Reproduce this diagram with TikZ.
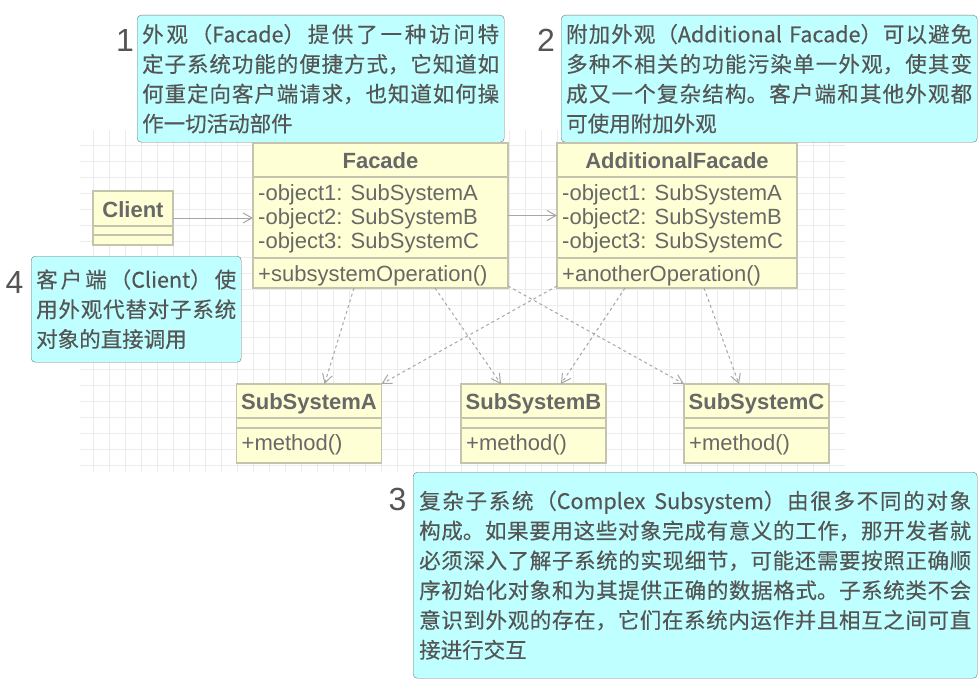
\documentclass[tikz,border=0pt]{standalone}
\usepackage{fontspec}
\setmainfont{Liberation Sans}
\newfontfamily\cjk[FakeBold=0.3]{Noto Sans CJK SC}
\usetikzlibrary{arrows.meta,positioning}
\XeTeXlinebreaklocale "zh"
\XeTeXlinebreakskip=0pt plus 1pt
\definecolor{notefill}{HTML}{BFFFFF}
\definecolor{noteline}{HTML}{777777}
\definecolor{notetext}{HTML}{555555}
\definecolor{classfill}{HTML}{FFFFD5}
\definecolor{classline}{HTML}{C4C4AE}
\definecolor{classtext}{HTML}{686868}
\definecolor{gridline}{HTML}{ECECEC}
\definecolor{arrowline}{HTML}{A6A6A6}
\def\classfont{\fontsize{22}{24}\selectfont}

\begin{document}
\begin{tikzpicture}[x=1pt,y=-1pt,
  classbox/.style={draw=classline,fill=classfill,line width=1.3pt,inner sep=0pt,outer sep=0pt,anchor=north west},
  classsep/.style={draw=classline,line width=1.3pt},
  classtitle/.style={font=\classfont\bfseries,text=classtext,inner sep=0pt,anchor=base},
  classbody/.style={font=\classfont,text=classtext,align=left,inner sep=0pt},
  note/.style={draw=noteline,fill=notefill,rounded corners=4pt,anchor=north west,inner xsep=5pt,inner ysep=2pt,
    align=justify,text=notetext,font=\cjk\fontsize{21.5}{29.8}\selectfont},
  notenum/.style={font=\fontsize{32}{32}\selectfont,text=notetext,inner sep=0pt},
  uses/.style={draw=arrowline,line width=1pt,-{Straight Barb[length=9pt,width=10pt]}},
  depends/.style={uses,dash pattern=on 3pt off 3pt}]
\fill[white] (0,0) rectangle (978,693);
\useasboundingbox (0,0) rectangle (978,693);
% grid
\foreach \gx in {93.5,109.5,...,845} \draw[gridline,line width=0.8pt] (\gx,130) -- (\gx,472);
\foreach \gy in {145,161,...,470} \draw[gridline,line width=0.8pt] (80,\gy) -- (845,\gy);

% notes
\node[note,text width=357pt,minimum width=367pt,minimum height=127pt] (note1) at (137,15) {外观（Facade）提供了一种访问特\linebreak 定子系统功能的便捷方式，它知道如\linebreak 何重定向客户端请求，也知道如何操\linebreak 作一切活动部件};
\node[note,text width=406pt,minimum width=416pt,minimum height=127pt] (note2) at (561,15) {附加外观（Additional Facade）可以避免\linebreak 多种不相关的功能污染单一外观，使其变\linebreak 成又一个复杂结构。客户端和其他外观都\linebreak 可使用附加外观};
\node[note,text width=552pt,minimum width=564pt,minimum height=206pt,inner xsep=6pt] (note3) at (413,472) {复杂子系统（Complex Subsystem）由很多不同的对象\linebreak 构成。如果要用这些对象完成有意义的工作，那开发者就\linebreak 必须深入了解子系统的实现细节，可能还需要按照正确顺\linebreak 序初始化对象和为其提供正确的数据格式。子系统类不会\linebreak 意识到外观的存在，它们在系统内运作并且相互之间可直\linebreak 接进行交互};
\node[note,text width=200pt,minimum width=210pt,minimum height=106pt] (note4) at (31,256) {客户端（Client）使\linebreak 用外观代替对子系统\linebreak 对象的直接调用};
\node[notenum] (num1) at (125,40) {1};
\node[notenum] (num2) at (546,40) {2};
\node[notenum] (num3) at (397.5,499) {3};
\node[notenum] (num4) at (14.5,282.5) {4};

% classes
\node[classbox,minimum width=80pt,minimum height=54pt] (client) at (93,191) {};
\node[classtitle] (clientT) at ([yshift=-26pt]client.north) {Client};
\draw[classsep] ([yshift=-35pt]client.north west) -- ([yshift=-35pt]client.north east);
\draw[classsep] ([yshift=-44pt]client.north west) -- ([yshift=-44pt]client.north east);

\node[classbox,minimum width=255pt,minimum height=145pt] (facade) at (253,143) {};
\node[classtitle] (facadeT) at ([yshift=-25pt]facade.north) {Facade};
\draw[classsep] ([yshift=-34pt]facade.north west) -- ([yshift=-34pt]facade.north east);
\node[classbody,anchor=west] (facadeA) at ([xshift=5pt,yshift=-3.7pt]facade.west) {-object1: SubSystemA\\-object2: SubSystemB\\-object3: SubSystemC};
\draw[classsep] ([yshift=-115pt]facade.north west) -- ([yshift=-115pt]facade.north east);
\node[classbody,anchor=base west] (facadeM) at ([xshift=5pt,yshift=7pt]facade.south west) {+subsystemOperation()};

\node[classbox,minimum width=240pt,minimum height=145pt] (addfacade) at (557,143) {};
\node[classtitle] (addfacadeT) at ([yshift=-25pt]addfacade.north) {AdditionalFacade};
\draw[classsep] ([yshift=-34pt]addfacade.north west) -- ([yshift=-34pt]addfacade.north east);
\node[classbody,anchor=west] (addfacadeA) at ([xshift=5pt,yshift=-3.7pt]addfacade.west) {-object1: SubSystemA\\-object2: SubSystemB\\-object3: SubSystemC};
\draw[classsep] ([yshift=-115pt]addfacade.north west) -- ([yshift=-115pt]addfacade.north east);
\node[classbody,anchor=base west] (addfacadeM) at ([xshift=5pt,yshift=7pt]addfacade.south west) {+anotherOperation()};

\foreach \name/\sx/\label in {subA/236.5/SubSystemA,subB/461/SubSystemB,subC/684/SubSystemC}{
  \node[classbox,minimum width=145pt,minimum height=79pt] (\name) at (\sx,384) {};
  \node[classtitle] (\name T) at ([yshift=-25pt]\name.north) {\label};
  \draw[classsep] ([yshift=-34pt]\name.north west) -- ([yshift=-34pt]\name.north east);
  \draw[classsep] ([yshift=-44pt]\name.north west) -- ([yshift=-44pt]\name.north east);
  \node[classbody,anchor=base west] (\name M) at ([xshift=5pt,yshift=13pt]\name.south west) {+method()};
}

% associations
\draw[uses] (client.east) -- (client.east -| facade.west);
\draw[uses] (facade.east) -- (addfacade.west);
\draw[depends] ([xshift=101pt]facade.south west) -- ([xshift=88pt]subA.north west);
\draw[depends] ([xshift=182pt]facade.south west) -- ([xshift=40pt]subB.north west);
\draw[depends] ([yshift=2pt]facade.south east) -- (subC.north west);
\draw[depends] ([yshift=2pt]addfacade.south west) -- (subA.north east);
\draw[depends] ([xshift=68pt]addfacade.south west) -- ([xshift=100pt]subB.north west);
\draw[depends] ([xshift=147pt]addfacade.south west) -- ([xshift=55pt]subC.north west);
\end{tikzpicture}
\end{document}
